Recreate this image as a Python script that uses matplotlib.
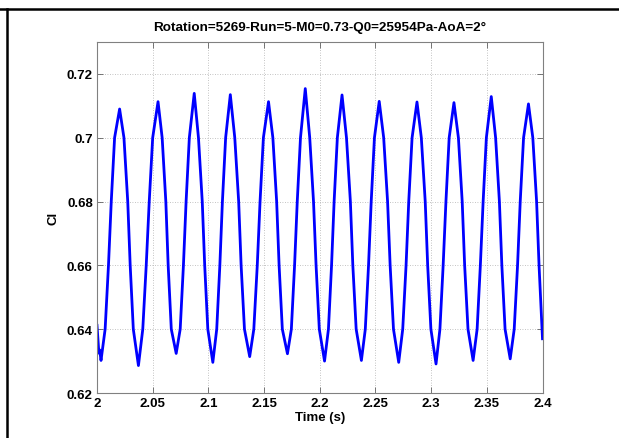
import matplotlib
matplotlib.use("Agg")
import matplotlib.pyplot as plt
from matplotlib.lines import Line2D

plt.rcParams['font.family'] = ['Liberation Sans', 'DejaVu Sans']

title = "Rotation=5269-Run=5-M0=0.73-Q0=25954Pa-AoA=2°"
xlabel = "Time (s)"
ylabel = "Cl"
xticks = [2, 2.05, 2.1, 2.15, 2.2, 2.25, 2.3, 2.35, 2.4]
xticklabels = ["2", "2.05", "2.1", "2.15", "2.2", "2.25", "2.3", "2.35", "2.4"]
yticks = [0.62, 0.64, 0.66, 0.68, 0.70, 0.72]
yticklabels = ["0.62", "0.64", "0.66", "0.68", "0.7", "0.72"]

time_s = [
    2.0000, 2.0017, 2.0024,
    2.0036, 2.0073, 2.0103, 2.0128, 2.0158, 2.0203, 2.0242, 2.0276, 2.0298, 2.0326,
    2.0372, 2.0411, 2.0442, 2.0469, 2.0500, 2.0548, 2.0585, 2.0618, 2.0639, 2.0667,
    2.0711, 2.0747, 2.0776, 2.0800, 2.0829, 2.0873, 2.0911, 2.0945, 2.0967, 2.0995,
    2.1040, 2.1075, 2.1103, 2.1126, 2.1155, 2.1197, 2.1237, 2.1272, 2.1294, 2.1324,
    2.1371, 2.1408, 2.1439, 2.1464, 2.1494, 2.1540, 2.1579, 2.1613, 2.1635, 2.1664,
    2.1710, 2.1745, 2.1774, 2.1798, 2.1827, 2.1870, 2.1910, 2.1944, 2.1967, 2.1996,
    2.2043, 2.2078, 2.2106, 2.2129, 2.2158, 2.2200, 2.2240, 2.2275, 2.2297, 2.2327,
    2.2374, 2.2409, 2.2438, 2.2462, 2.2491, 2.2534, 2.2574, 2.2609, 2.2632, 2.2662,
    2.2709, 2.2745, 2.2775, 2.2799, 2.2829, 2.2873, 2.2912, 2.2947, 2.2969, 2.2998,
    2.3044, 2.3079, 2.3108, 2.3133, 2.3162, 2.3205, 2.3245, 2.3279, 2.3301, 2.3331,
    2.3377, 2.3413, 2.3442, 2.3467, 2.3496, 2.3540, 2.3579, 2.3613, 2.3635, 2.3664,
    2.3710, 2.3746, 2.3776, 2.3800, 2.3830, 2.3874, 2.3913, 2.3947, 2.3969, 2.4000,
]

cl = [
    0.6412, 0.6325, 0.6335,
    0.6302, 0.6400, 0.6600, 0.6800, 0.7000, 0.7090, 0.7000, 0.6800, 0.6600, 0.6400,
    0.6286, 0.6400, 0.6600, 0.6800, 0.7000, 0.7113, 0.7000, 0.6800, 0.6600, 0.6400,
    0.6324, 0.6400, 0.6600, 0.6800, 0.7000, 0.7139, 0.7000, 0.6800, 0.6600, 0.6400,
    0.6296, 0.6400, 0.6600, 0.6800, 0.7000, 0.7135, 0.7000, 0.6800, 0.6600, 0.6400,
    0.6314, 0.6400, 0.6600, 0.6800, 0.7000, 0.7113, 0.7000, 0.6800, 0.6600, 0.6400,
    0.6323, 0.6400, 0.6600, 0.6800, 0.7000, 0.7154, 0.7000, 0.6800, 0.6600, 0.6400,
    0.6300, 0.6400, 0.6600, 0.6800, 0.7000, 0.7134, 0.7000, 0.6800, 0.6600, 0.6400,
    0.6302, 0.6400, 0.6600, 0.6800, 0.7000, 0.7114, 0.7000, 0.6800, 0.6600, 0.6400,
    0.6296, 0.6400, 0.6600, 0.6800, 0.7000, 0.7112, 0.7000, 0.6800, 0.6600, 0.6400,
    0.6291, 0.6400, 0.6600, 0.6800, 0.7000, 0.7110, 0.7000, 0.6800, 0.6600, 0.6400,
    0.6302, 0.6400, 0.6600, 0.6800, 0.7000, 0.7129, 0.7000, 0.6800, 0.6600, 0.6400,
    0.6307, 0.6400, 0.6600, 0.6800, 0.7000, 0.7106, 0.7000, 0.6800, 0.6600, 0.6370,
]

W, H = 619, 439
fig = plt.figure(figsize=(W / 100, H / 100), dpi=100)
ax = fig.add_axes([97 / W, (H - 394) / H, 445.5 / W, 351 / H])

ax.plot(time_s, cl, color="#0000ff", linewidth=2.0, solid_joinstyle="round")

ax.set_xlim(2, 2.4)
ax.set_ylim(0.62, 0.73)
ax.set_xticks(xticks)
ax.set_xticklabels(xticklabels)
ax.set_yticks(yticks)
ax.set_yticklabels(yticklabels)

ax.grid(True, color="#b0b0b0", linestyle=(0, (1, 2)), linewidth=0.6)
for s in ax.spines.values():
    s.set_color("#808080")
    s.set_linewidth(0.8)
ax.tick_params(direction="in", top=True, right=True, length=4, width=0.6,
               color="#606060", labelsize=9.5, pad=3)
for lab in ax.get_xticklabels() + ax.get_yticklabels():
    lab.set_fontweight("bold")

ax.set_title(title, fontsize=9.7, fontweight="bold", pad=9)
ax.set_xlabel(xlabel, fontsize=9.5, fontweight="bold", labelpad=1)
ax.set_ylabel(ylabel, fontsize=9.5, fontweight="bold", labelpad=5)

# outer frame lines (top and left)
fig.add_artist(Line2D([0, 1], [1 - 10 / H, 1 - 10 / H], transform=fig.transFigure,
                      color="black", linewidth=1.8))
fig.add_artist(Line2D([7 / W, 7 / W], [0, 1 - 10 / H], transform=fig.transFigure,
                      color="black", linewidth=1.8))

fig.savefig("out.png", dpi=100)
